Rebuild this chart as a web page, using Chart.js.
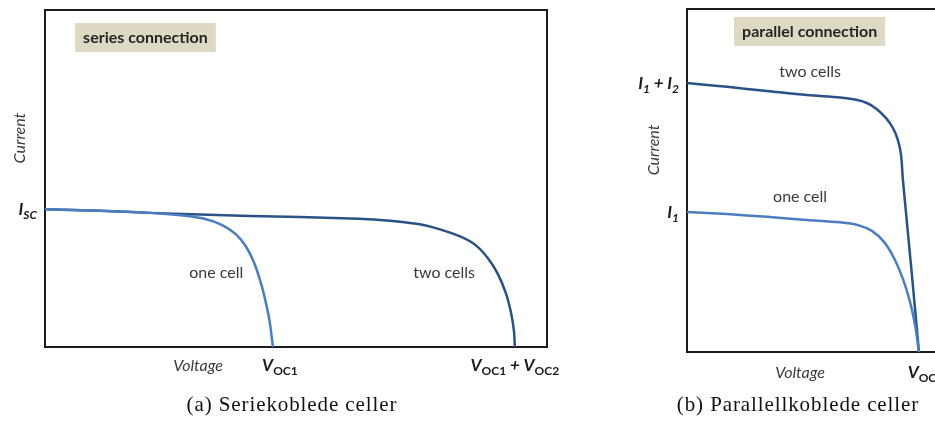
<!DOCTYPE html>
<html>
<head>
<meta charset="utf-8">
<script src="https://cdn.jsdelivr.net/npm/chart.js@4"></script>
<style>
  html, body { margin: 0; padding: 0; background: #fff; }
  body { width: 935px; height: 421px; overflow: hidden; position: relative; }
  .panel { position: absolute; top: 0; height: 421px; }
  #seriesWrap { left: 0; width: 600px; }
  #parallelWrap { left: 600px; width: 360px; }
  .caption { position: absolute; top: 392px; font-family: "Liberation Serif", serif; font-size: 21px;
             letter-spacing: 0.9px; color: #111; white-space: nowrap; transform: translateX(-50%); }
</style>
</head>
<body>
<div class="panel" id="seriesWrap"><canvas id="seriesChart" width="600" height="421"></canvas></div>
<div class="panel" id="parallelWrap"><canvas id="parallelChart" width="360" height="421"></canvas></div>
<div class="caption" style="left:292px">(a) Seriekoblede celler</div>
<div class="caption" style="left:798px">(b) Parallellkoblede celler</div>

<script>
// --- (a) serie: spenning / strøm (lest av figuren, vilkårlige enheter 0-10)
const seriesVoltOne = [0, 1.10, 2.09, 2.75, 3.19, 3.53, 3.80, 4.00, 4.16, 4.30, 4.40, 4.48, 4.54];
const seriesCurrOne = [4.09, 4.04, 3.98, 3.90, 3.80, 3.62, 3.35, 2.99, 2.52, 1.90, 1.31, 0.71, 0];
const seriesVoltTwo = [0, 1.10, 2.09, 3.09, 4.08, 5.08, 6.08, 6.67, 7.07, 7.47, 7.87, 8.27, 8.57, 8.82, 9.02, 9.18, 9.28, 9.34, 9.36];
const seriesCurrTwo = [4.09, 4.04, 3.98, 3.93, 3.89, 3.86, 3.81, 3.77, 3.72, 3.64, 3.49, 3.28, 3.03, 2.64, 2.17, 1.60, 1.04, 0.50, 0];
const seriesXTickValues = [4.54, 9.36];
const seriesXTickLabels = ['V_{OC1}', 'V_{OC1} + V_{OC2}'];
const seriesYTickValues = [4.09];
const seriesYTickLabels = ['I_{SC}'];

// --- (b) parallell
const parallelVoltOne = [0, 1.52, 3.04, 4.56, 5.82, 6.50, 7.03, 7.49, 7.87, 8.21, 8.48, 8.67, 8.82];
const parallelCurrOne = [4.08, 4.02, 3.94, 3.85, 3.78, 3.70, 3.53, 3.21, 2.74, 2.13, 1.46, 0.79, 0];
const parallelVoltTwo = [0, 1.52, 3.04, 4.56, 5.82, 6.39, 6.84, 7.22, 7.57, 7.83, 8.02, 8.14, 8.21, 8.52, 8.82];
const parallelCurrTwo = [7.84, 7.73, 7.61, 7.49, 7.42, 7.36, 7.26, 7.08, 6.82, 6.53, 6.18, 5.74, 5.01, 2.51, 0];
const parallelXTickValues = [8.82];
const parallelXTickLabels = ['V_{OC}'];
const parallelYTickValues = [7.84, 4.08];
const parallelYTickLabels = ['I_{1} + I_{2}', 'I_{1}'];

const DARK = '#2a5287';
const LIGHT = '#4a7ebf';
const FRAME = '#1c1c1c';
const TEXT = '#3a3a3a';
const FONT = 'Lato, "Open Sans", sans-serif';

// lager {x,y}-punkter av to lister
function toPoints(xs, ys) {
    return xs.map((x, i) => ({ x: x, y: ys[i] }));
}

// tegner tekst med senket skrift, f.eks. 'V_{OC1}'
function drawRich(ctx, str, x, y, align, mainFont, subFont) {
    const parts = [];
    str.replace(/_\{([^}]*)\}|([^_]+)/g, (m, sub, normal) => {
        parts.push(sub !== undefined ? { t: sub, sub: true } : { t: normal, sub: false });
    });
    let total = 0;
    parts.forEach(p => {
        ctx.font = p.sub ? subFont : mainFont;
        p.w = ctx.measureText(p.t).width;
        total += p.w;
    });
    let cx = align === 'right' ? x - total : align === 'center' ? x - total / 2 : x;
    ctx.textAlign = 'left';
    ctx.textBaseline = 'alphabetic';
    parts.forEach(p => {
        ctx.font = p.sub ? subFont : mainFont;
        ctx.fillText(p.t, cx, p.sub ? y + 4 : y);
        cx += p.w;
    });
}

// plugin for etiketter, boks og aksetekster
const ivLabels = {
    id: 'ivLabels',
    afterDraw(chart, args, o) {
        const { ctx, chartArea: a, scales: { x, y } } = chart;
        ctx.save();

        // overskriftsboks
        ctx.font = 'bold 16px ' + FONT;
        const bw = ctx.measureText(o.boxText).width + 16;
        const bx = x.getPixelForValue(o.boxX), by = y.getPixelForValue(o.boxY);
        ctx.fillStyle = '#ddd9c3';
        ctx.fillRect(bx, by, bw, 29);
        ctx.fillStyle = '#262626';
        ctx.textBaseline = 'middle';
        ctx.fillText(o.boxText, bx + 8, by + 15);

        // kurvenavn
        ctx.fillStyle = TEXT;
        ctx.font = '16px ' + FONT;
        ctx.textAlign = 'center';
        o.curveLabels.forEach(l => {
            ctx.fillText(l.text, x.getPixelForValue(l.x), y.getPixelForValue(l.y));
        });

        // aksetitler
        ctx.font = 'italic 16px ' + FONT;
        ctx.textBaseline = 'alphabetic';
        ctx.fillText('Voltage', x.getPixelForValue(o.xTitleAt), a.bottom + o.xTitleDy);
        ctx.save();
        ctx.translate(a.left + o.yTitleDx, y.getPixelForValue(o.yTitleAt));
        ctx.rotate(-Math.PI / 2);
        ctx.textBaseline = 'middle';
        ctx.fillText('Current', 0, 0);
        ctx.restore();

        // merker på aksene
        ctx.fillStyle = '#1a1a1a';
        o.xTickValues.forEach((v, i) => {
            drawRich(ctx, o.xTickLabels[i], x.getPixelForValue(v) + o.xTickDx[i], a.bottom + o.xTitleDy,
                'center', 'bold italic 17px ' + FONT, 'bold 12px ' + FONT);
        });
        o.yTickValues.forEach((v, i) => {
            drawRich(ctx, o.yTickLabels[i], a.left - 8, y.getPixelForValue(v) + 6,
                'right', 'bold italic 17px ' + FONT, 'bold italic 12px ' + FONT);
        });
        ctx.restore();
    }
};

function frameAxis(position) {
    return {
        type: 'linear', position: position, min: 0, max: 10,
        ticks: { display: false },
        grid: { display: false, drawTicks: false },
        border: { display: true, color: FRAME, width: 2 }
    };
}

function makeChart(id, one, two, padding, labels) {
    return new Chart(document.getElementById(id), {
        type: 'line',
        data: {
            datasets: [
                { label: 'one cell', data: one, borderColor: LIGHT, borderWidth: 2.5 },
                { label: 'two cells', data: two, borderColor: DARK, borderWidth: 2.5 }
            ]
        },
        options: {
            responsive: false,
            animation: false,
            layout: { padding: padding },
            elements: {
                point: { radius: 0 },
                line: { tension: 0.3, fill: false }
            },
            scales: {
                x: frameAxis('bottom'),
                y: frameAxis('left'),
                x2: frameAxis('top'),
                y2: frameAxis('right')
            },
            plugins: {
                legend: { display: false },
                tooltip: { enabled: false },
                ivLabels: labels
            }
        },
        plugins: [ivLabels]
    });
}

makeChart('seriesChart',
    toPoints(seriesVoltOne, seriesCurrOne),
    toPoints(seriesVoltTwo, seriesCurrTwo),
    { left: 45, top: 10, right: 53, bottom: 74 },
    {
        boxText: 'series connection', boxX: 0.6, boxY: 9.61,
        curveLabels: [{ text: 'one cell', x: 3.41, y: 2.2 }, { text: 'two cells', x: 7.95, y: 2.2 }],
        xTitleAt: 3.05, xTitleDy: 24, yTitleDx: -25, yTitleAt: 6.2,
        xTickValues: seriesXTickValues, xTickLabels: seriesXTickLabels, xTickDx: [7, 0],
        yTickValues: seriesYTickValues, yTickLabels: seriesYTickLabels
    });

makeChart('parallelChart',
    toPoints(parallelVoltOne, parallelCurrOne),
    toPoints(parallelVoltTwo, parallelCurrTwo),
    { left: 87, top: 9, right: 10, bottom: 69 },
    {
        boxText: 'parallel connection', boxX: 1.79, boxY: 9.77,
        curveLabels: [{ text: 'two cells', x: 4.68, y: 8.16 }, { text: 'one cell', x: 4.30, y: 4.52 }],
        xTitleAt: 4.30, xTitleDy: 26, yTitleDx: -33, yTitleAt: 5.89,
        xTickValues: parallelXTickValues, xTickLabels: parallelXTickLabels, xTickDx: [3],
        yTickValues: parallelYTickValues, yTickLabels: parallelYTickLabels
    });
</script>
</body>
</html>
